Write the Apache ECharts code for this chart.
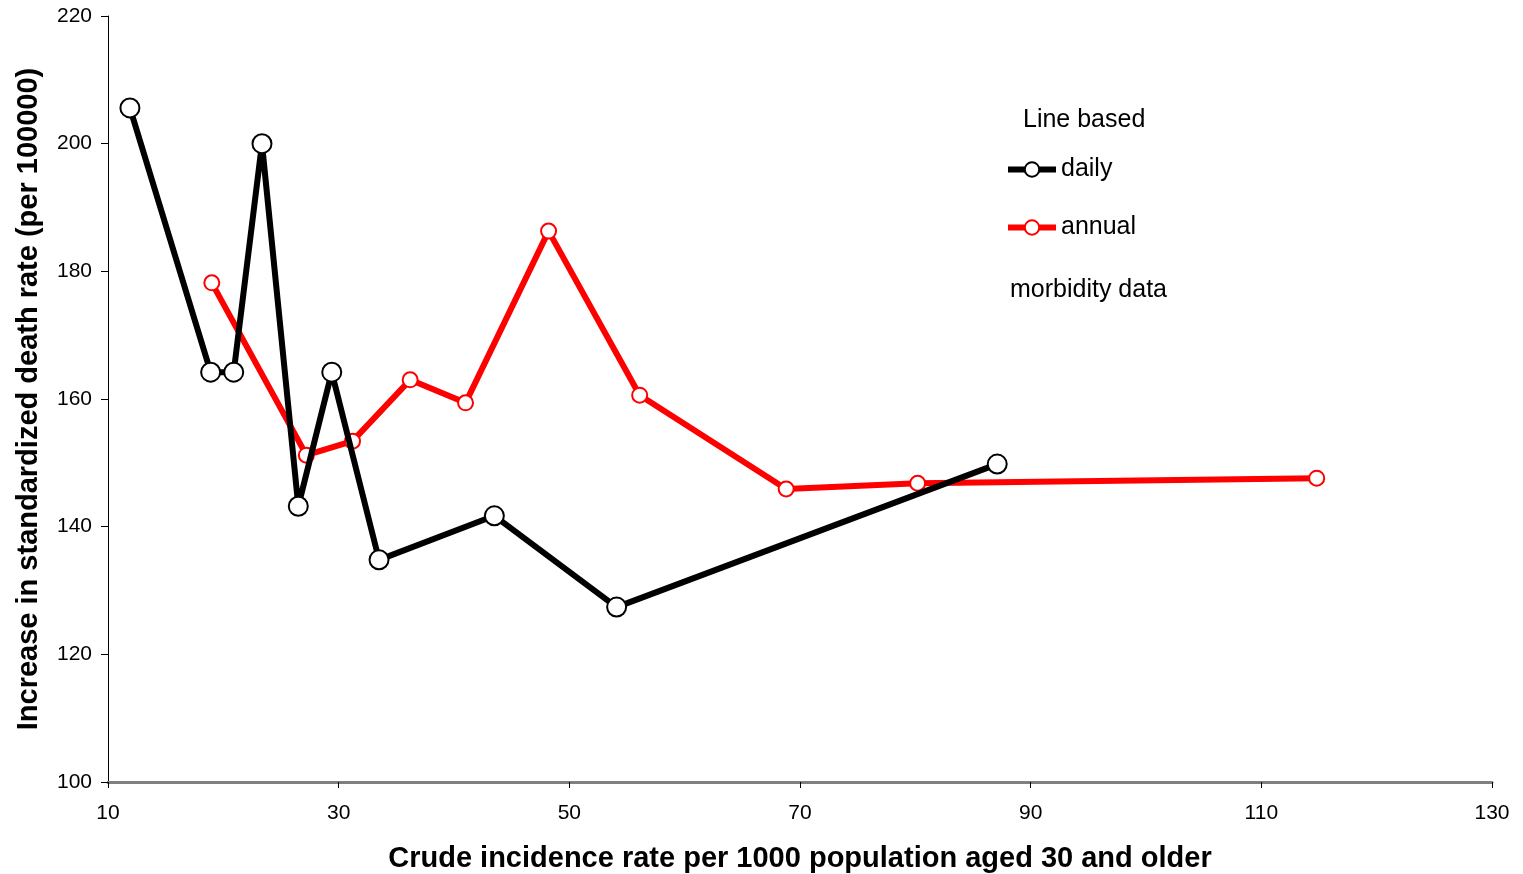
<!DOCTYPE html>
<html>
<head>
<meta charset="utf-8">
<script src="https://cdn.jsdelivr.net/npm/echarts@6/dist/echarts.min.js"></script>
<style>
  html, body { margin: 0; padding: 0; background: #fff; }
  #chart { width: 1523px; height: 874px; }
</style>
</head>
<body>
<div id="chart"></div>
<script>
const dailyX = [11.9, 18.9, 20.9, 23.35, 26.5, 29.4, 33.5, 43.5, 54.1, 87.1];
const dailyY = [205.6, 164.2, 164.2, 200.0, 143.2, 164.2, 134.8, 141.7, 127.4, 149.8];
const annualX = [19.0, 27.2, 31.2, 36.2, 41.0, 48.2, 56.1, 68.8, 80.2, 114.8];
const annualY = [178.2, 151.2, 153.4, 163.0, 159.4, 186.3, 160.6, 145.9, 146.8, 147.6];

const pairs = (xs, ys) => xs.map((x, i) => [x, ys[i]]);

let chart = echarts.init(document.getElementById('chart'));
const font = 'Liberation Sans, Arial, sans-serif';

chart.setOption({
    animation: false,
    textStyle: {fontFamily: font},
    grid: {left: 108, right: 31, top: 16, bottom: 92, containLabel: false, outerBoundsMode: 'none'},
    xAxis: {
        type: 'value', min: 10, max: 130, interval: 20,
        name: 'Crude incidence rate per 1000 population aged 30 and older',
        nameLocation: 'middle', nameGap: 62,
        nameTextStyle: {fontSize: 29, fontWeight: 'bold', color: '#000', fontFamily: font},
        axisLine: {lineStyle: {color: '#808080', width: 3}},
        axisTick: {length: 6, lineStyle: {color: '#000'}},
        axisLabel: {fontSize: 21, color: '#000', margin: 21, fontFamily: font},
        splitLine: {show: false}
    },
    yAxis: {
        type: 'value', min: 100, max: 220, interval: 20,
        name: 'Increase in standardized death rate (per 100000)',
        nameLocation: 'middle', nameGap: 65,
        nameTextStyle: {fontSize: 29, fontWeight: 'bold', color: '#000', fontFamily: font},
        axisLine: {show: true, lineStyle: {color: '#000', width: 1}},
        axisTick: {show: true, length: 7, lineStyle: {color: '#000'}},
        axisLabel: {fontSize: 21, color: '#000', margin: 16, fontFamily: font},
        splitLine: {show: false}
    },
    legend: {
        orient: 'vertical', left: 1000, top: 152,
        itemWidth: 48, itemHeight: 18, itemGap: 33,
        lineStyle: {width: 6},
        textStyle: {fontSize: 25, color: '#000', fontFamily: font},
        data: ['daily', 'annual']
    },
    graphic: [
        {type: 'text', left: 1023, top: 108, style: {text: 'Line based', fontSize: 25, fill: '#000', fontFamily: font}},
        {type: 'text', left: 1010, top: 278, style: {text: 'morbidity data', fontSize: 25, fill: '#000', fontFamily: font}}
    ],
    series: [
        {
            name: 'daily', type: 'line', data: pairs(dailyX, dailyY),
            symbol: 'circle', symbolSize: 19,
            lineStyle: {color: '#000', width: 6},
            itemStyle: {color: '#fff', borderColor: '#000', borderWidth: 2},
            z: 3
        },
        {
            name: 'annual', type: 'line', data: pairs(annualX, annualY),
            symbol: 'circle', symbolSize: 15,
            lineStyle: {color: '#ff0000', width: 6},
            itemStyle: {color: '#fff', borderColor: '#ff0000', borderWidth: 2},
            z: 2
        }
    ]
});
</script>
</body>
</html>
